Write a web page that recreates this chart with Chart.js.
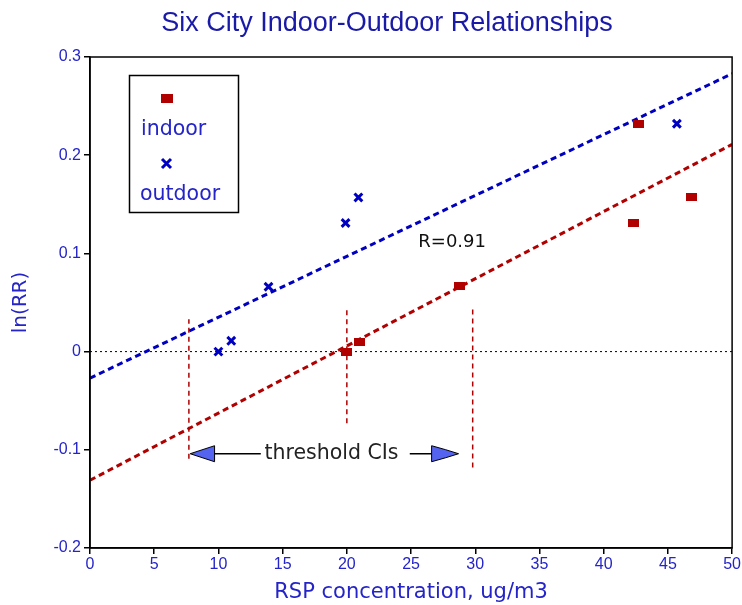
<!DOCTYPE html>
<html>
<head>
<meta charset="utf-8">
<script src="https://cdn.jsdelivr.net/npm/chart.js@4.4.1/dist/chart.umd.min.js"></script>
<style>
  html, body { margin: 0; padding: 0; background: #fff; }
  #wrap { width: 742px; height: 605px; position: relative; }
</style>
</head>
<body>
<div id="wrap"><canvas id="c"></canvas></div>
<script>
// ---- data ----
const indoorX  = [20, 21, 28.8, 42.3, 42.7, 46.8];
const indoorY  = [0.0, 0.010, 0.067, 0.131, 0.232, 0.157];
const outdoorX = [10, 11, 13.9, 19.9, 20.9, 45.7];
const outdoorY = [0.0, 0.011, 0.066, 0.131, 0.157, 0.232];
const fitX       = [0, 50];
const outdoorFit = [-0.027, 0.283];
const indoorFit  = [-0.131, 0.211];
const ciX    = [7.7, 20, 29.8];
const ciLow  = [-0.109, -0.073, -0.118];
const ciHigh = [0.033, 0.045, 0.043];
const xTicks = [0, 5, 10, 15, 20, 25, 30, 35, 40, 45, 50];
const yTicks = [-0.2, -0.1, 0, 0.1, 0.2, 0.3];
const legendLabels = ['indoor', 'outdoor'];
const titleText = 'Six City Indoor-Outdoor Relationships';
const rLabel = 'R=0.91';
const ciLabel = 'threshold CIs';

const RED = '#b00000';
const BLUE = '#0000c0';
const TEXTBLUE = '#2424c8';
const FONT = "'DejaVu Sans', sans-serif";
const TICKFONT = "'Liberation Sans', Arial, sans-serif";

// rectangle point style (wider than tall)
const rectImg = document.createElement('canvas');
rectImg.width = 11; rectImg.height = 8;
(function(){ const g = rectImg.getContext('2d'); g.fillStyle = RED; g.fillRect(0,0,11,8); })();

const pts = (xs, ys) => xs.map((x, i) => ({x, y: ys[i]}));

const datasets = [
  { label: 'indoor', type: 'scatter', data: pts(indoorX, indoorY), pointStyle: rectImg,
    backgroundColor: RED, borderColor: RED, order: 0 },
  { label: 'outdoor', type: 'scatter', data: pts(outdoorX, outdoorY), pointStyle: 'crossRot',
    radius: 5.5, borderWidth: 3, borderColor: BLUE, backgroundColor: BLUE, order: 0 },
  { label: 'outdoor fit', type: 'line', data: pts(fitX, outdoorFit), borderColor: BLUE,
    borderWidth: 3, borderDash: [6, 4], pointRadius: 0, fill: false, order: 2 },
  { label: 'indoor fit', type: 'line', data: pts(fitX, indoorFit), borderColor: RED,
    borderWidth: 3, borderDash: [6, 4], pointRadius: 0, fill: false, order: 2 },
  { label: 'zero', type: 'line', data: pts(fitX, [0, 0]), borderColor: '#000',
    borderWidth: 1, borderDash: [2, 3], pointRadius: 0, fill: false, order: 3 }
];
ciX.forEach((x, i) => {
  datasets.push({ label: 'ci' + i, type: 'line', data: [{x, y: ciLow[i]}, {x, y: ciHigh[i]}],
    borderColor: RED, borderWidth: 1.5, borderDash: [5, 4], pointRadius: 0, fill: false, order: 3 });
});

const extras = {
  id: 'extras',
  afterDraw(chart) {
    const ctx = chart.ctx, xs = chart.scales.x, ys = chart.scales.y, a = chart.chartArea;
    ctx.save();
    // title
    ctx.fillStyle = '#1a1aa8';
    ctx.font = "27px 'Liberation Sans', Arial, sans-serif";
    ctx.textAlign = 'center'; ctx.textBaseline = 'middle';
    ctx.fillText(titleText, 387, 24);

    // frame
    ctx.strokeStyle = '#000'; ctx.lineWidth = 1.5;
    ctx.strokeRect(a.left, a.top, a.right - a.left, a.bottom - a.top);

    // R label
    ctx.fillStyle = '#111';
    ctx.font = "18px " + FONT;
    ctx.fillText(rLabel, xs.getPixelForValue(28.2), ys.getPixelForValue(0.111));

    // threshold CI arrows
    const ay = ys.getPixelForValue(-0.104);
    const px = v => xs.getPixelForValue(v);
    ctx.strokeStyle = '#000'; ctx.lineWidth = 1.5;
    ctx.beginPath();
    ctx.moveTo(px(9.6), ay); ctx.lineTo(px(13.3), ay);
    ctx.moveTo(px(24.9), ay); ctx.lineTo(px(26.6), ay);
    ctx.stroke();
    ctx.fillStyle = '#5464f0'; ctx.lineWidth = 1;
    ctx.beginPath();
    ctx.moveTo(px(7.8), ay);
    ctx.lineTo(px(9.7), ay - 8);
    ctx.lineTo(px(9.7), ay + 8);
    ctx.closePath(); ctx.fill(); ctx.stroke();
    ctx.beginPath();
    ctx.moveTo(px(26.6), ay - 8);
    ctx.lineTo(px(27.7), ay - 4);
    ctx.lineTo(px(28.7), ay);
    ctx.lineTo(px(27.7), ay + 4);
    ctx.lineTo(px(26.6), ay + 8);
    ctx.closePath(); ctx.fill(); ctx.stroke();
    ctx.fillStyle = '#222';
    ctx.font = "20.5px " + FONT;
    ctx.textAlign = 'center';
    ctx.fillText(ciLabel, px(18.8), ay);

    // legend box
    ctx.strokeStyle = '#000'; ctx.lineWidth = 1.5;
    ctx.strokeRect(129.5, 75.5, 109, 137);
    ctx.drawImage(rectImg, 161, 94, 12, 9);
    ctx.strokeStyle = BLUE; ctx.lineWidth = 3;
    ctx.beginPath();
    ctx.moveTo(162, 159); ctx.lineTo(171, 168);
    ctx.moveTo(171, 159); ctx.lineTo(162, 168);
    ctx.stroke();
    ctx.fillStyle = TEXTBLUE;
    ctx.font = "20.5px " + FONT;
    ctx.textAlign = 'left'; ctx.textBaseline = 'alphabetic';
    ctx.fillText(legendLabels[0], 141, 135);
    ctx.fillText(legendLabels[1], 140, 200);
    ctx.restore();
  }
};

new Chart(document.getElementById('c'), {
  data: { datasets },
  options: {
    responsive: true, maintainAspectRatio: false, animation: false,
    layout: { padding: { left: 0, right: 8, top: 57, bottom: 0 } },
    plugins: {
      legend: { display: false },
      tooltip: { enabled: false },
      title: { display: false }
    },
    scales: {
      x: {
        type: 'linear', min: 0, max: 50,
        afterFit(s) { s.height = 57; },
        afterBuildTicks(s) { s.ticks = xTicks.map(v => ({value: v})); },
        ticks: { color: TEXTBLUE, font: { family: TICKFONT, size: 16 }, padding: 1, maxRotation: 0 },
        grid: { drawOnChartArea: false, drawTicks: true, tickLength: 6, color: '#000', lineWidth: 1.5 },
        border: { display: true, color: '#000', width: 1.5 },
        title: { display: true, text: 'RSP concentration, ug/m3', color: TEXTBLUE,
                 font: { family: FONT, size: 21 }, padding: { top: 2, bottom: 0 } }
      },
      y: {
        type: 'linear', min: -0.2, max: 0.3,
        afterFit(s) { s.width = 90; },
        afterBuildTicks(s) { s.ticks = yTicks.map(v => ({value: v})); },
        ticks: { color: TEXTBLUE, font: { family: TICKFONT, size: 16 }, padding: 3,
                 callback: v => String(Number(v.toFixed(1))) },
        grid: { drawOnChartArea: false, drawTicks: true, tickLength: 6, color: '#000', lineWidth: 1.5 },
        border: { display: true, color: '#000', width: 1.5 },
        title: { display: true, text: 'ln(RR)', color: TEXTBLUE,
                 font: { family: FONT, size: 20 }, padding: { top: 9, bottom: 0 } }
      }
    }
  },
  plugins: [extras]
});
</script>
</body>
</html>
